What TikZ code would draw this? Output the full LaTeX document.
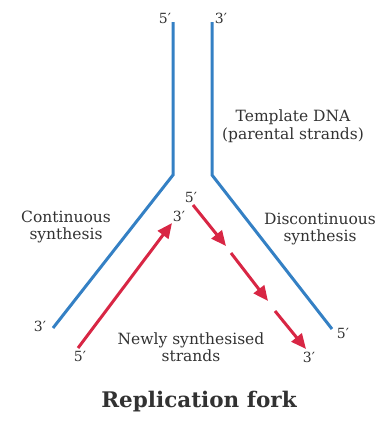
\documentclass[tikz,border=0pt]{standalone}
\usepackage{fontspec}
\setmainfont{DejaVu Serif}
\usetikzlibrary{arrows.meta}
\definecolor{strandblue}{RGB}{52,128,196}
\definecolor{strandred}{RGB}{216,38,68}
\definecolor{txtgray}{RGB}{50,50,50}
\tikzset{
  parent/.style={draw=strandblue, line width=3pt, line join=miter},
  newstrand/.style={draw=strandred, line width=3pt, -{Triangle[length=15pt,width=13pt]}},
  lbl/.style={text=txtgray, font=\fontsize{15.5}{17.5}\selectfont, inner sep=0pt, align=center},
  endlbl/.style={text=txtgray, font=\fontsize{14}{16}\selectfont, inner sep=0pt}
}
\begin{document}
\begin{tikzpicture}[x=1pt,y=-1pt]
\useasboundingbox (0,0) rectangle (387,423);
% template strands
\coordinate (lt) at (173,22);
\coordinate (lb) at (173,175);
\coordinate (le) at (53,328);
\coordinate (rt) at (212,22);
\coordinate (rb) at (212,175);
\coordinate (re) at (332,329);
\draw[parent] (lt) -- (lb) -- (le);
\draw[parent] (rt) -- (rb) -- (re);
% leading strand
\coordinate (ls) at (78,348);
\coordinate (lend) at (172,223);
\draw[newstrand] (ls) -- (lend);
% lagging strand fragments
\coordinate (a1) at (193,205);
\coordinate (a2) at (226,246);
\coordinate (b1) at (231,253);
\coordinate (b2) at (268,301);
\coordinate (c1) at (275,311);
\coordinate (c2) at (306,349);
\draw[newstrand] (a1) -- (a2);
\draw[newstrand] (b1) -- (b2);
\draw[newstrand] (c1) -- (c2);
% end labels
\node[endlbl] (t5) at (165,18) {5′};
\node[endlbl] (t3) at (221,18) {3′};
\node[endlbl] (m5) at (191,197) {5′};
\node[endlbl] (m3) at (179,216) {3′};
\node[endlbl] (l3) at (40,326) {3′};
\node[endlbl] (l5) at (80,356) {5′};
\node[endlbl] (r5) at (343,333) {5′};
\node[endlbl] (r3) at (309,357) {3′};
% text labels
\node[lbl] (tmpl) at (293,126) {Template DNA\\(parental strands)};
\node[lbl] (cont) at (66,227) {Continuous\\synthesis};
\node[lbl] (disc) at (320,229) {Discontinuous\\synthesis};
\node[lbl] (newly) at (191,347) {Newly synthesised\\strands};
\node[text=txtgray, font=\fontsize{21.5}{24}\bfseries, inner sep=0pt] (title) at (199,402) {Replication fork};
\end{tikzpicture}
\end{document}
